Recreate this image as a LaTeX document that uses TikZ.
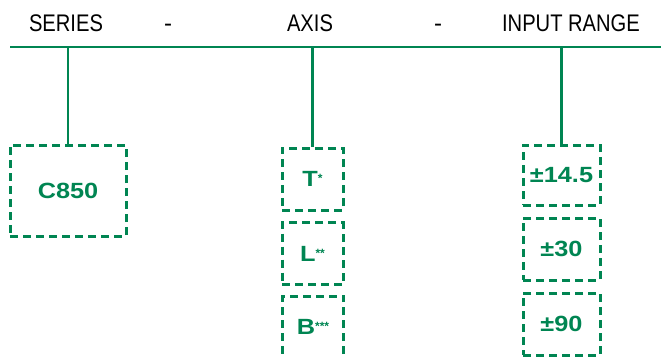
\documentclass[tikz,border=0pt]{standalone}
\usepackage{fontspec}
\setmainfont{Liberation Sans}
\definecolor{codegreen}{RGB}{0,133,82}

\begin{document}
\begin{tikzpicture}[x=1pt, y=-1pt,
    headtext/.style = {font = \fontsize{24}{26}\selectfont, text = black, inner sep = 0pt, anchor = base},
    optbox/.style = {draw = codegreen, line width = 3pt, dash pattern = on 8pt off 5pt,
        font = \fontsize{22}{24}\selectfont\bfseries, text = codegreen, inner sep = 0pt},
    stem/.style = {draw = codegreen, line width = 2.2pt}]
    \useasboundingbox (0, 0) rectangle (661, 356);
    \def\narrow#1{\scalebox{0.84}[1]{#1}}
    \def\wide#1{\scalebox{1.15}[1]{#1}}
    \def\stars#1{\raisebox{4pt}{\fontsize{12}{12}\selectfont#1}}

    % header
    \node[headtext] (series) at (66, 31) {\narrow{SERIES}};
    \node[headtext] (dashone) at (168, 31) {-};
    \node[headtext] (axis) at (310, 31) {\narrow{AXIS}};
    \node[headtext] (dashtwo) at (438, 31) {-};
    \node[headtext] (range) at (571, 31) {\narrow{INPUT RANGE}};

    \coordinate (lineleft) at (10, 47);
    \coordinate (lineright) at (661, 47);
    \draw[stem] (lineleft) -- (lineright);

    % option boxes
    \node[optbox, minimum width = 116pt, minimum height = 91pt] (c850) at (68, 190.5) {\wide{C850}};

    \node[optbox, minimum width = 61pt, minimum height = 62pt] (axT) at (312.5, 179) {\wide{T}\stars{*}};
    \node[optbox, minimum width = 61pt, minimum height = 62pt] (axL) at (312.5, 253.5) {\wide{L}\stars{**}};
    \node[optbox, minimum width = 61pt, minimum height = 62pt] (axB) at (313, 327) {\wide{B}\stars{***}};

    \node[optbox, minimum width = 77pt, minimum height = 60pt] (rgA) at (561.5, 175) {\wide{±14.5}};
    \node[optbox, minimum width = 77pt, minimum height = 62pt] (rgB) at (561.5, 249) {\wide{±30}};
    \node[optbox, minimum width = 77pt, minimum height = 62pt] (rgC) at (561.5, 324) {\wide{±90}};

    % stems
    \draw[stem] (c850.north |- lineleft) -- (c850.north);
    \draw[stem] (axT.north |- lineleft) -- (axT.north);
    \draw[stem] (rgA.north |- lineleft) -- (rgA.north);
\end{tikzpicture}
\end{document}
